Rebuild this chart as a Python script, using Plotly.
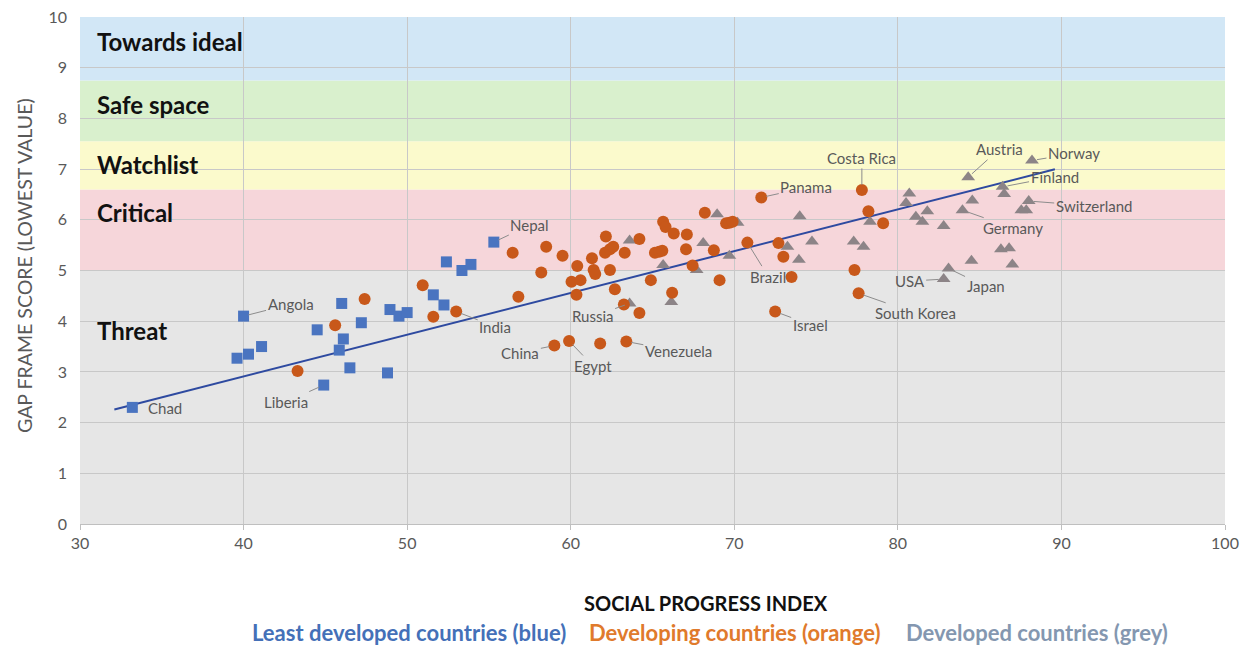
import plotly.graph_objects as go

# ---------------- data ----------------
blue_x = [33.2, 40.0, 39.6, 40.3, 41.1, 44.5, 44.9, 45.85, 46.0, 46.1, 46.5, 47.2, 48.8,
          48.95, 49.5, 50.0, 51.6, 52.25, 52.4, 53.35, 53.9, 55.3]
blue_y = [2.30, 4.10, 3.27, 3.35, 3.50, 3.83, 2.74, 3.43, 4.35, 3.65, 3.08, 3.97, 2.98,
          4.23, 4.10, 4.17, 4.52, 4.32, 5.17, 5.00, 5.12, 5.56]
blue_names = ["Chad", "Angola", "", "", "", "", "Liberia", "", "", "", "", "", "",
              "", "", "", "", "", "", "", "", "Nepal"]

orange_x = [43.3, 45.6, 47.4, 50.95, 51.6, 53.0, 56.45, 56.8, 58.2, 58.5, 59.5, 60.4, 60.05,
            60.6, 60.35, 59.0, 59.9, 61.8, 63.4, 61.3, 61.4, 61.5, 62.15, 62.1, 62.4, 62.6,
            63.3, 62.4, 62.7, 63.25, 64.2, 64.2, 65.65, 65.8, 66.3, 67.1, 65.15, 65.4, 65.6,
            64.9, 67.05, 68.75, 67.45, 66.2, 69.1, 68.2, 69.5, 69.7, 69.9, 70.8, 72.7, 73.0,
            71.65, 72.5, 73.5, 77.8, 78.2, 79.1, 77.35, 77.6]
orange_y = [3.02, 3.92, 4.44, 4.71, 4.09, 4.19, 5.35, 4.48, 4.96, 5.47, 5.29, 5.09, 4.78,
            4.81, 4.52, 3.52, 3.61, 3.56, 3.60, 5.24, 5.01, 4.93, 5.67, 5.35, 5.42, 5.47,
            5.35, 5.01, 4.63, 4.33, 4.16, 5.62, 5.96, 5.86, 5.73, 5.71, 5.35, 5.37, 5.39,
            4.81, 5.42, 5.40, 5.10, 4.56, 4.81, 6.14, 5.93, 5.94, 5.96, 5.55, 5.54, 5.27,
            6.44, 4.19, 4.87, 6.59, 6.17, 5.93, 5.01, 4.55]
orange_names = ["", "", "", "", "", "India", "", "", "", "", "", "", "",
                "", "", "China", "Egypt", "", "Venezuela", "", "", "", "", "", "", "",
                "", "", "", "", "", "", "", "", "", "", "", "", "",
                "", "", "", "", "", "", "", "", "", "", "Brazil", "", "",
                "Panama", "Israel", "", "Costa Rica", "", "", "", "South Korea"]

grey_x = [63.6, 63.6, 65.65, 68.1, 67.7, 66.15, 68.95, 70.2, 69.7, 74.0, 73.25, 73.95, 74.75,
          78.3, 77.3, 77.9, 80.7, 80.5, 81.1, 81.5, 81.8, 82.8, 83.95, 84.55, 84.3, 86.4,
          86.5, 88.2, 88.0, 87.55, 87.85, 86.3, 86.8, 87.0, 84.5, 83.1, 82.8]
grey_y = [4.35, 5.59, 5.11, 5.54, 5.01, 4.38, 6.11, 5.94, 5.29, 6.07, 5.47, 5.21, 5.57,
          5.96, 5.57, 5.47, 6.52, 6.33, 6.06, 5.96, 6.17, 5.88, 6.19, 6.38, 6.84, 6.65,
          6.51, 7.17, 6.37, 6.19, 6.19, 5.42, 5.44, 5.12, 5.19, 5.04, 4.83]
grey_names = ["Russia", "", "", "", "", "", "", "", "", "", "", "", "",
              "", "", "", "", "", "", "", "", "", "Germany", "", "Austria", "Finland",
              "", "Norway", "Switzerland", "", "", "", "", "", "", "Japan", "USA"]

# trend line: y = slope * x + intercept
trend_slope = 0.0824
trend_intercept = -0.386
trend_x_range = [32.1, 89.6]

# zone bands (GAP frame score)
band_names = ["Threat", "Critical", "Watchlist", "Safe space", "Towards ideal"]
band_edges = [0, 5.0, 6.6, 7.55, 8.75, 10]

x_ticks = [30, 40, 50, 60, 70, 80, 90, 100]
y_ticks = [0, 1, 2, 3, 4, 5, 6, 7, 8, 9, 10]

# ---------------- style ----------------
FONT = "Lato"
band_colors = ["#e6e6e6", "#f6d6da", "#fbfacc", "#d9f0cd", "#d2e7f6"]
band_label_y = [3.81, 6.15, 7.10, 8.28, 9.51]
BLUE = "#4a74c0"
ORANGE = "#c8581a"
GREY = "#8c8487"
LABEL_COL = "#595959"

W, H = 1251, 645
ML, MR, MT, MB = 80, 26, 17, 121
PW = W - ML - MR
PH = H - MT - MB


def px_x(page_x):
    return (page_x - ML) / PW


def px_y(page_y):
    return (H - MB - page_y) / PH


label_offsets = {
    "Chad": (33, 1, False), "Angola": (47, -12, True), "Liberia": (-38, 17, True),
    "India": (39, 15, True), "Nepal": (36, -17, True), "China": (-34, 7, True),
    "Egypt": (24, 25, True), "Russia": (-37, 13, True), "Venezuela": (52, 10, True),
    "Brazil": (21, 34, True), "Panama": (45, -10, True), "Israel": (35, 13, True),
    "Costa Rica": (0, -32, True), "South Korea": (57, 20, True), "Austria": (31, -28, True),
    "Norway": (42, -7, True), "Finland": (52, -10, True), "Switzerland": (65, 5, True),
    "Germany": (51, 18, True), "USA": (-34, 2, True), "Japan": (37, 18, True),
}

fig = go.Figure()

# bands
shapes = []
for i in range(len(band_names)):
    shapes.append(dict(type="rect", xref="x", yref="y", x0=x_ticks[0], x1=x_ticks[-1],
                       y0=band_edges[i], y1=band_edges[i + 1], fillcolor=band_colors[i],
                       line=dict(width=0), layer="below"))

fig.add_trace(go.Scatter(x=trend_x_range,
                         y=[trend_slope * v + trend_intercept for v in trend_x_range],
                         mode="lines", line=dict(color="#2e4aa0", width=2), hoverinfo="skip"))

fig.add_trace(go.Scatter(x=grey_x, y=grey_y, mode="markers",
                         marker=dict(symbol="triangle-up", size=12, color=GREY)))
fig.add_trace(go.Scatter(x=orange_x, y=orange_y, mode="markers",
                         marker=dict(symbol="circle", size=12, color=ORANGE)))
fig.add_trace(go.Scatter(x=blue_x, y=blue_y, mode="markers",
                         marker=dict(symbol="square", size=11, color=BLUE)))

annotations = []
for xs, ys, names in [(blue_x, blue_y, blue_names), (orange_x, orange_y, orange_names),
                      (grey_x, grey_y, grey_names)]:
    for xv, yv, nm in zip(xs, ys, names):
        if not nm:
            continue
        ax, ay, arrow = label_offsets[nm]
        if arrow:
            annotations.append(dict(x=xv, y=yv, xref="x", yref="y", text=nm, showarrow=True,
                                    ax=ax, ay=ay, arrowhead=0, arrowwidth=1,
                                    arrowcolor="#8c8c8c", standoff=5, startstandoff=0,
                                    font=dict(family=FONT, size=15, color=LABEL_COL)))
        else:
            annotations.append(dict(x=xv, y=yv, xref="x", yref="y", text=nm, showarrow=False,
                                    xshift=ax, yshift=-ay,
                                    font=dict(family=FONT, size=15, color=LABEL_COL)))

for nm, yv in zip(band_names, band_label_y):
    annotations.append(dict(x=30.9, y=yv, xref="x", yref="y", text="<b>" + nm + "</b>",
                            showarrow=False, xanchor="left",
                            font=dict(family=FONT, size=24, color="#111111")))

# axis titles and colored legend text
annotations.append(dict(x=px_x(24), y=px_y(266), xref="paper", yref="paper",
                        xanchor="center", yanchor="middle",
                        text="GAP FRAME SCORE (LOWEST VALUE)", textangle=-90, showarrow=False,
                        font=dict(family=FONT, size=19.5, color=LABEL_COL)))
annotations.append(dict(x=px_x(706), y=px_y(603), xref="paper", yref="paper",
                        xanchor="center", yanchor="middle",
                        text="<b>SOCIAL PROGRESS INDEX</b>", showarrow=False,
                        font=dict(family=FONT, size=20, color="#111111")))
for txt, col, cx in [("Least developed countries (blue)", "#4470b8", 409),
                     ("Developing countries (orange)", "#e07a2c", 734),
                     ("Developed countries (grey)", "#8497b0", 1037)]:
    annotations.append(dict(x=px_x(cx), y=px_y(632), xref="paper", yref="paper",
                            xanchor="center", yanchor="middle",
                            text="<b>" + txt + "</b>", showarrow=False,
                            font=dict(family=FONT, size=22, color=col)))

fig.update_layout(
    width=W, height=H,
    margin=dict(l=ML, r=MR, t=MT, b=MB, autoexpand=False),
    paper_bgcolor="white", plot_bgcolor="white",
    showlegend=False, shapes=shapes, annotations=annotations,
    font=dict(family=FONT), hovermode=False,
)
fig.update_xaxes(range=[30, 100], tickvals=x_ticks, showgrid=True, gridcolor="#c8c8c8",
                 gridwidth=1, zeroline=False, showline=True, linecolor="#bfbfbf",
                 ticks="outside", ticklen=5, tickcolor="#bfbfbf", automargin=False,
                 ticklabeloverflow="allow",
                 tickfont=dict(family=FONT, size=16, color=LABEL_COL))
fig.update_yaxes(range=[0, 10], tickvals=y_ticks, showgrid=True, gridcolor="#c8c8c8",
                 gridwidth=1, zeroline=False, showline=False, ticks="",
                 ticklabelstandoff=12, automargin=False, ticklabeloverflow="allow",
                 tickfont=dict(family=FONT, size=16, color=LABEL_COL))

# remove the default 8px page margin so the 1251x645 figure fills the window exactly
fig.write_html("out.html", config={"displayModeBar": False},
               post_script="document.body.style.margin='0';")
